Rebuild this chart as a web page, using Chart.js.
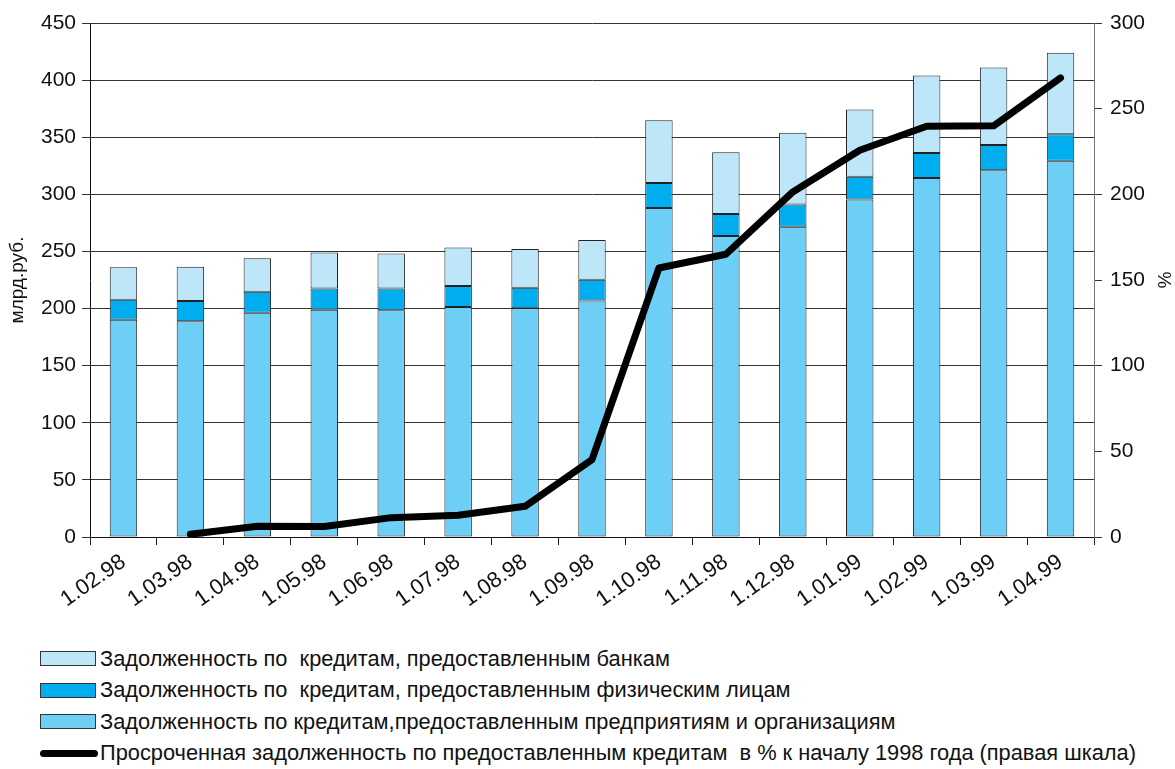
<!DOCTYPE html>
<html>
<head>
<meta charset="utf-8">
<script src="https://cdn.jsdelivr.net/npm/chart.js@4"></script>
<style>
  body { margin: 0; background: #fff; font-family: "Liberation Sans", Arial, sans-serif; }
  #wrap { position: relative; width: 1175px; height: 635px; }
  .legend { margin: 8px 0 0 40px; }
  .row { display: flex; align-items: center; height: 31.5px; font-size: 21.8px; color: #111; white-space: pre; }
  .box { width: 54px; height: 13px; border: 1px solid #333; margin-right: 4px; }
  .ln { width: 58px; height: 7px; background: #000; border-radius: 4px; margin-right: 2px; }
</style>
</head>
<body>
<div id="wrap"><canvas id="debts" width="1175" height="635"></canvas></div>
<div class="legend" id="legend"></div>
<script>
const labels = ['1.02.98','1.03.98','1.04.98','1.05.98','1.06.98','1.07.98','1.08.98','1.09.98',
                '1.10.98','1.11.98','1.12.98','1.01.99','1.02.99','1.03.99','1.04.99']

// stacked totals, млрд.руб.
const enterprisesTop = [190.3, 188.8, 196.4, 199, 198.5, 201.4, 200.2, 207, 288, 263.5, 271.7, 295.4, 314.3, 321, 329.5]
const personsTop     = [207.8, 206.6, 214.8, 217.5, 217.5, 219.8, 218.3, 225.3, 310, 282.8, 291, 315.5, 336.2, 343.2, 352.6]
const banksTop       = [236.1, 236.7, 244, 249, 248.2, 253.4, 252.2, 260, 364.8, 336.8, 354, 374.2, 404, 411, 424]

// overdue debt, % to the beginning of 1998 (right scale)
const overdue = [null, 1.6, 6.3, 6.1, 11.3, 12.7, 17.9, 45.2, 157, 165, 201.4, 225.7, 239.7, 240, 268]

const enterprises = enterprisesTop
const persons = personsTop.map((v, i) => +(v - enterprisesTop[i]).toFixed(1))
const banks = banksTop.map((v, i) => +(v - personsTop[i]).toFixed(1))

const names = {
    banks: 'Задолженность по  кредитам, предоставленным банкам',
    persons: 'Задолженность по  кредитам, предоставленным физическим лицам',
    enterprises: 'Задолженность по кредитам,предоставленным предприятиям и организациям',
    overdue: 'Просроченная задолженность по предоставленным кредитам  в % к началу 1998 года (правая шкала)'
}

const colors = { enterprises: '#6dcff6', persons: '#00aeef', banks: '#bde6f9' }

const font = { family: '"Liberation Sans", Arial, sans-serif', size: 21 }

const barSet = (key, data) => ({
    type: 'bar',
    label: names[key],
    data: data,
    backgroundColor: colors[key],
    borderColor: '#222',
    borderWidth: 1,
    borderSkipped: false,
    barPercentage: 0.41,
    categoryPercentage: 1,
    yAxisID: 'y',
    order: 1
})

const ctx = document.querySelector('#debts')
const debtsChart = new Chart(ctx, {
    data: {
        labels: labels,
        datasets: [
            barSet('enterprises', enterprises),
            barSet('persons', persons),
            barSet('banks', banks),
            {
                type: 'line',
                label: names.overdue,
                data: overdue,
                borderColor: '#000',
                borderWidth: 7,
                borderCapStyle: 'round',
                borderJoinStyle: 'round',
                pointRadius: 0,
                tension: 0,
                yAxisID: 'y2',
                order: 0
            }
        ]
    },
    options: {
        responsive: false,
        animation: false,
        layout: { padding: { top: 23, left: 0, right: 0, bottom: 0 } },
        plugins: { legend: { display: false }, tooltip: { enabled: false } },
        scales: {
            x: {
                stacked: true,
                grid: { drawOnChartArea: false, color: '#222', tickLength: 8, offset: true },
                border: { color: '#111' },
                ticks: { font: { ...font, size: 22 }, color: '#111', minRotation: 35, maxRotation: 35, padding: 4 },
                afterFit: s => { s.height = 98 }
            },
            y: {
                stacked: true,
                position: 'left',
                min: 0, max: 450,
                ticks: { stepSize: 50, font: font, color: '#111', padding: 6 },
                grid: { color: '#333', tickLength: 8 },
                border: { color: '#111' },
                title: { display: true, text: 'млрд.руб.', font: { ...font, size: 19 }, color: '#111', padding: { top: 6, bottom: 0 } },
                afterFit: s => { s.width = 90 }
            },
            y2: {
                position: 'right',
                min: 0, max: 300,
                ticks: { stepSize: 50, font: font, color: '#111', padding: 8 },
                grid: { drawOnChartArea: false, color: '#333', tickLength: 8 },
                border: { color: '#777' },
                title: { display: true, text: '%', font: { ...font, size: 19 }, color: '#111', padding: 0 },
                afterFit: s => { s.width = 81 }
            }
        }
    }
})

// legend rows, same order as the picture
const legend = document.querySelector('#legend')
const rows = [['banks', 'box'], ['persons', 'box'], ['enterprises', 'box'], ['overdue', 'ln']]
rows.forEach(([key, kind]) => {
    const row = document.createElement('div')
    row.className = 'row'
    const mark = document.createElement('span')
    mark.className = kind
    if (kind === 'box') mark.style.background = colors[key]
    row.appendChild(mark)
    row.appendChild(document.createTextNode(names[key]))
    legend.appendChild(row)
})
</script>
</body>
</html>
